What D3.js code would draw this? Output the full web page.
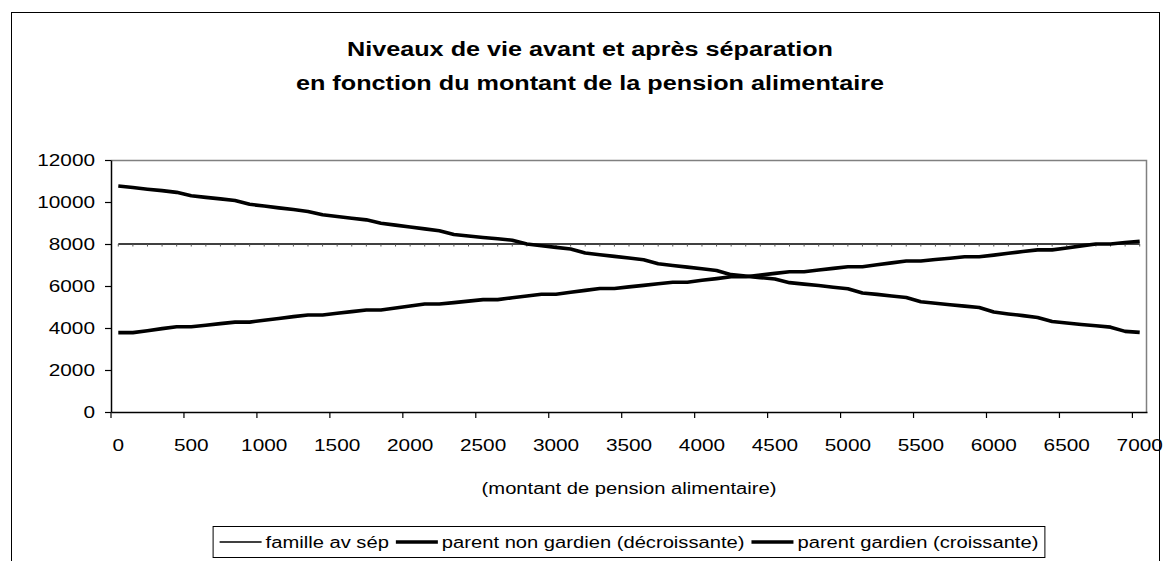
<!DOCTYPE html>
<html>
<head>
<meta charset="utf-8">
<script src="https://cdn.jsdelivr.net/npm/d3@7"></script>
<style>
  body { margin: 0; background: #fff; }
  text { font-family: "Liberation Sans", Arial, sans-serif; fill: #000; }
</style>
</head>
<body>
<div class="container"></div>
<script>
// x categories (montant de pension alimentaire), step 100
var xCats = [0, 100, 200, 300, 400, 500, 600, 700, 800, 900,
  1000, 1100, 1200, 1300, 1400, 1500, 1600, 1700, 1800, 1900,
  2000, 2100, 2200, 2300, 2400, 2500, 2600, 2700, 2800, 2900,
  3000, 3100, 3200, 3300, 3400, 3500, 3600, 3700, 3800, 3900,
  4000, 4100, 4200, 4300, 4400, 4500, 4600, 4700, 4800, 4900,
  5000, 5100, 5200, 5300, 5400, 5500, 5600, 5700, 5800, 5900,
  6000, 6100, 6200, 6300, 6400, 6500, 6600, 6700, 6800, 6900, 7000];

var xTickLabels = [0, 500, 1000, 1500, 2000, 2500, 3000, 3500, 4000, 4500, 5000, 5500, 6000, 6500, 7000];
var yTickLabels = [0, 2000, 4000, 6000, 8000, 10000, 12000];

var seriesNames = ["famille av sép", "parent non gardien (décroissante)", "parent gardien (croissante)"];

// famille avant séparation
var famille = [8000, 8000, 8000, 8000, 8000, 8000, 8000, 8000, 8000, 8000,
  8000, 8000, 8000, 8000, 8000, 8000, 8000, 8000, 8000, 8000,
  8000, 8000, 8000, 8000, 8000, 8000, 8000, 8000, 8000, 8000,
  8000, 8000, 8000, 8000, 8000, 8000, 8000, 8000, 8000, 8000,
  8000, 8000, 8000, 8000, 8000, 8000, 8000, 8000, 8000, 8000,
  8000, 8000, 8000, 8000, 8000, 8000, 8000, 8000, 8000, 8000,
  8000, 8000, 8000, 8000, 8000, 8000, 8000, 8000, 8000, 8000, 8000];

// parent non gardien
var nonGardien = [10760, 10690, 10610, 10540, 10460, 10300, 10220, 10150, 10070, 9890,
  9810, 9720, 9640, 9550, 9390, 9310, 9230, 9150, 8990, 8900,
  8810, 8720, 8630, 8450, 8380, 8310, 8250, 8180, 8000, 7920,
  7840, 7760, 7570, 7490, 7410, 7330, 7250, 7060, 6980, 6900,
  6820, 6740, 6540, 6470, 6400, 6330, 6160, 6090, 6020, 5940,
  5870, 5670, 5600, 5520, 5450, 5250, 5180, 5110, 5040, 4980,
  4760, 4670, 4590, 4500, 4310, 4240, 4170, 4110, 4040, 3840, 3790];

// parent gardien
var gardien = [3780, 3780, 3870, 3970, 4060, 4060, 4130, 4210, 4280, 4280,
  4370, 4450, 4540, 4620, 4620, 4700, 4780, 4860, 4860, 4950,
  5050, 5140, 5140, 5210, 5280, 5350, 5350, 5440, 5520, 5610,
  5610, 5700, 5790, 5880, 5880, 5960, 6030, 6110, 6180, 6180,
  6270, 6350, 6440, 6440, 6520, 6600, 6680, 6680, 6760, 6840,
  6920, 6920, 7010, 7100, 7190, 7190, 7260, 7320, 7390, 7390,
  7470, 7560, 7640, 7720, 7720, 7810, 7910, 8000, 8000, 8070, 8130];

var svgWidth = 1163;
var svgHeight = 561;

var margin = { top: 160, right: 16, bottom: 149, left: 111 };
var width = svgWidth - margin.left - margin.right;
var height = svgHeight - margin.top - margin.bottom;

// the original picture is stretched sideways, so text is widened
var stretchX = 1.26;
function stretch(sel) {
  sel.each(function() {
    var w = this.getComputedTextLength();
    d3.select(this)
      .attr("textLength", w * stretchX)
      .attr("lengthAdjust", "spacingAndGlyphs");
  });
}

var svg = d3.select(".container")
  .append("svg")
  .attr("width", svgWidth)
  .attr("height", svgHeight);

// outer chart frame
svg.append("rect")
  .attr("x", 11.5)
  .attr("y", 12.5)
  .attr("width", 1148)
  .attr("height", 560)
  .attr("fill", "none")
  .attr("stroke", "#000")
  .attr("stroke-width", 1);

// title
var titleLines = ["Niveaux de vie avant et après séparation", "en fonction du montant de la pension alimentaire"];
svg.selectAll(".title")
  .data(titleLines)
  .enter()
  .append("text")
  .attr("class", "title")
  .attr("x", 590)
  .attr("y", (d, i) => 56 + i * 34)
  .attr("text-anchor", "middle")
  .attr("font-size", "20px")
  .attr("font-weight", "bold")
  .text(d => d)
  .call(stretch);

var chartGroup = svg.append("g")
  .attr("transform", `translate(${margin.left}, ${margin.top})`);

// scales
var xBand = d3.scaleBand()
  .domain(xCats)
  .range([0, width])
  .paddingInner(0)
  .paddingOuter(0);

var yLinearScale = d3.scaleLinear()
  .domain([0, 12000])
  .range([height, 0]);

var xMid = d => xBand(d) + xBand.bandwidth() / 2;

// plot area border (grey top and right)
chartGroup.append("path")
  .attr("d", `M0,0.5H${width - 0.5}V${height}`)
  .attr("fill", "none")
  .attr("stroke", "#808080")
  .attr("stroke-width", 1.5);

// axes
var bottomAxis = d3.axisBottom(xBand)
  .tickValues(xTickLabels)
  .tickSize(6)
  .tickSizeOuter(0)
  .tickPadding(21);

var leftAxis = d3.axisLeft(yLinearScale)
  .tickValues(yTickLabels)
  .tickFormat(d3.format("d"))
  .tickSize(6)
  .tickSizeOuter(0)
  .tickPadding(10);

var xAxisG = chartGroup.append("g")
  .attr("transform", `translate(0, ${height})`)
  .call(bottomAxis);

// Excel style: ticks sit on category boundaries, labels on category centres
xAxisG.selectAll(".tick line")
  .attr("x1", -xBand.bandwidth() / 2)
  .attr("x2", -xBand.bandwidth() / 2);

var yAxisG = chartGroup.append("g")
  .call(leftAxis);

chartGroup.selectAll(".domain").attr("stroke", "#000").attr("stroke-width", 1.5);
chartGroup.selectAll(".tick line").attr("stroke", "#000").attr("stroke-width", 1.2);
chartGroup.selectAll(".tick text")
  .attr("font-family", "Liberation Sans, Arial, sans-serif")
  .attr("font-size", "16.5px")
  .attr("fill", "#000")
  .call(stretch);

// lines
var line = d3.line()
  .x((d, i) => xMid(xCats[i]))
  .y(d => yLinearScale(d));

chartGroup.append("path")
  .datum(famille)
  .attr("fill", "none")
  .attr("stroke", "#000")
  .attr("stroke-width", 1.5)
  .attr("d", line);

// small marks along the flat line
chartGroup.selectAll(".fam-mark")
  .data(famille)
  .enter()
  .append("line")
  .attr("class", "fam-mark")
  .attr("x1", (d, i) => xMid(xCats[i]))
  .attr("x2", (d, i) => xMid(xCats[i]))
  .attr("y1", d => yLinearScale(d))
  .attr("y2", d => yLinearScale(d) + 2.5)
  .attr("stroke", "#555")
  .attr("stroke-width", 1);

chartGroup.append("path")
  .datum(nonGardien)
  .attr("fill", "none")
  .attr("stroke", "#000")
  .attr("stroke-width", 3.6)
  .attr("stroke-linejoin", "round")
  .attr("d", line);

chartGroup.append("path")
  .datum(gardien)
  .attr("fill", "none")
  .attr("stroke", "#000")
  .attr("stroke-width", 3.6)
  .attr("stroke-linejoin", "round")
  .attr("d", line);

// x axis title
chartGroup.append("text")
  .attr("x", width / 2)
  .attr("y", height + 82)
  .attr("text-anchor", "middle")
  .attr("font-size", "16px")
  .text("(montant de pension alimentaire)")
  .call(stretch);

// legend
var legendY = 542;
var legend = svg.append("g");
var legendWidths = [1.5, 3.6, 3.6];
var cursor = 0;
seriesNames.forEach(function(name, i) {
  var g = legend.append("g").attr("transform", `translate(${cursor}, 0)`);
  g.append("line")
    .attr("x1", 0).attr("x2", 42)
    .attr("y1", legendY).attr("y2", legendY)
    .attr("stroke", "#000")
    .attr("stroke-width", legendWidths[i]);
  var t = g.append("text")
    .attr("x", 46)
    .attr("y", legendY + 6)
    .attr("font-size", "16px")
    .text(name)
    .call(stretch);
  var w = +t.attr("textLength");
  cursor += 46 + w + 7;
});
var total = cursor - 7;
var legendX = margin.left + width / 2 - total / 2;
legend.attr("transform", `translate(${legendX}, 0)`);
svg.insert("rect", "g")
  .attr("x", legendX - 6.5)
  .attr("y", 526.5)
  .attr("width", total + 13)
  .attr("height", 31)
  .attr("fill", "#fff")
  .attr("stroke", "#000")
  .attr("stroke-width", 1);
</script>
</body>
</html>
